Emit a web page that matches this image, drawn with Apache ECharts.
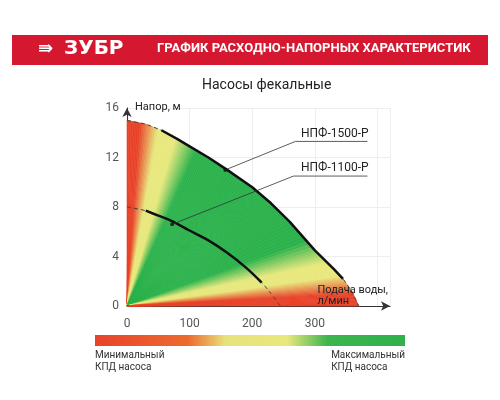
<!DOCTYPE html><html><head><meta charset="utf-8"><script src="https://cdn.jsdelivr.net/npm/echarts@6/dist/echarts.min.js"></script></head><body style="margin:0"><div id="c" style="width:500px;height:400px"></div><script>
const xTicks=[0,100,200,300,400];
const yTicks=[0,4,8,12,16];
const p1500X=[0,30,55,80,100,130,160,200,230,260,300,330,345,360,370];
const p1500Y=[15,14.7,14.2,13.5,12.9,12.0,11.0,9.6,8.3,6.8,4.5,3.0,2.2,1.1,0];
const p1100X=[0,30,50,70,100,130,160,190,215,230,245];
const p1100Y=[8,7.7,7.3,6.9,6.1,5.3,4.3,3.1,1.9,1.0,0];
const solid1500=[2,12];
const solid1100=[1,8];
const names=['НПФ-1500-Р','НПФ-1100-Р'];
const leader1500=[[157,11.0],[269,13.3],[384,13.3]];
const leader1100=[[72,6.6],[266,10.5],[384,10.5]];
const XS=0.625,YS=12.4;
const FN='Roboto,"Liberation Sans",sans-serif';
function mix(a,b,t){return a.map((v,i)=>Math.round(v+(b[i]-v)*t));}
const R=[232,66,40],Yl=[232,232,125],G=[44,178,76];
const stops=[[0,R],[3,R],[8,Yl],[12,Yl],[20,G],[66,G],[74,Yl],[80,Yl],[86,R],[90,R]];
function colAt(deg){for(let i=1;i<stops.length;i++){if(deg<=stops[i][0]){const t=(deg-stops[i-1][0])/(stops[i][0]-stops[i-1][0]);const c=mix(stops[i-1][1],stops[i][1],t);return 'rgb('+c.join(',')+')';}}return 'rgb('+R.join(',')+')';}
const wedges=[];for(let i=0;i<p1500X.length-1;i++)wedges.push([i]);
function seg(xs,ys,a,b){const r=[];for(let i=a;i<=b;i++)r.push([xs[i],ys[i]]);return r;}
const ch=echarts.init(document.getElementById('c'));
const ls={color:'#111',width:2.5};
ch.setOption({animation:false,
grid:{left:127,right:110,top:108,bottom:94},
xAxis:{type:'value',min:0,max:420,interval:100,axisLine:{lineStyle:{color:'#333'},symbol:['none','arrow'],symbolSize:[7,9]},axisTick:{show:false},splitLine:{lineStyle:{color:'#eee'}},axisLabel:{color:'#555',fontSize:12,fontFamily:FN,margin:12,formatter:v=>v>350?'':v}},
yAxis:{type:'value',min:0,max:16,interval:4,axisLine:{show:true,lineStyle:{color:'#333'},symbol:['none','arrow'],symbolSize:[7,9]},axisTick:{show:false},splitLine:{lineStyle:{color:'#eee'}},axisLabel:{color:'#555',fontSize:12,fontFamily:FN,margin:8}},
series:[
{type:'custom',data:wedges,silent:true,z:1,renderItem:(p,api)=>{const i=api.value(0);const ch2=[];const N=10;const o=api.coord([0,0]);
for(let k=0;k<N;k++){const t0=k/N,t1=(k+1)/N;const xa=p1500X[i]+(p1500X[i+1]-p1500X[i])*t0,ya=p1500Y[i]+(p1500Y[i+1]-p1500Y[i])*t0,xb=p1500X[i]+(p1500X[i+1]-p1500X[i])*t1,yb=p1500Y[i]+(p1500Y[i+1]-p1500Y[i])*t1;
const deg=Math.atan2((ya+yb)/2*YS,(xa+xb)/2*XS)*180/Math.PI;const a=api.coord([xa,ya]),b=api.coord([xb,yb]);
ch2.push({type:'polygon',shape:{points:[o,a,b]},style:{fill:colAt(deg),stroke:colAt(deg),lineWidth:0.6}});}
return {type:'group',children:ch2};}},
{type:'line',data:p1500X.map((x,i)=>[x,p1500Y[i]]),symbol:'none',lineStyle:{color:'#444',width:1,type:[4,3]},z:3},
{type:'line',data:p1100X.map((x,i)=>[x,p1100Y[i]]),smooth:0.3,symbol:'none',lineStyle:{color:'#444',width:1,type:[4,3]},z:3},
{type:'line',data:seg(p1500X,p1500Y,...solid1500),symbol:'none',lineStyle:ls,z:4},
{type:'line',data:seg(p1100X,p1100Y,...solid1100),smooth:0.3,symbol:'none',lineStyle:ls,z:4},
{type:'line',data:leader1500,symbol:'none',lineStyle:{color:'#333',width:0.8},z:5},
{type:'line',data:leader1100,symbol:'none',lineStyle:{color:'#333',width:0.8},z:5},
{type:'scatter',data:[leader1500[0],leader1100[0]],symbolSize:4,itemStyle:{color:'#111'},z:6}
],
graphic:[
{type:'rect',z:100,shape:{x:12,y:35,width:476,height:30},style:{fill:'#d5172f'}},
{type:'text',z:101,left:38,top:40,style:{text:'⇛',fill:'#fff',font:'bold 18px DejaVu Sans'}},
{type:'text',z:101,left:64,top:39,style:{text:'ЗУБР',fill:'#fff',font:'900 20px DejaVu Sans'}},
{type:'text',z:101,left:157,top:42,style:{text:'ГРАФИК РАСХОДНО-НАПОРНЫХ ХАРАКТЕРИСТИК',fill:'#fff',font:'bold 13px '+FN}},
{type:'text',z:101,left:202,top:78,style:{text:'Насосы фекальные',fill:'#222',font:'14px '+FN}},
{type:'text',z:101,left:135,top:102,style:{text:'Напор, м',fill:'#222',font:'11px '+FN}},
{type:'text',z:101,right:112,top:285,style:{text:'Подача воды,\nл/мин',fill:'#222',font:'11px '+FN,align:'right',lineHeight:11}},
{type:'text',z:101,left:301,top:128,style:{text:names[0],fill:'#222',font:'12px '+FN}},
{type:'text',z:101,left:301,top:162,style:{text:names[1],fill:'#222',font:'12px '+FN}},
{type:'rect',z:100,shape:{x:95,y:335,width:310,height:11},style:{fill:{type:'linear',x:0,y:0,x2:1,y2:0,colorStops:[{offset:0,color:'#e8432a'},{offset:0.3,color:'#ec6a2e'},{offset:0.42,color:'#e8e27a'},{offset:0.62,color:'#e8e87d'},{offset:0.75,color:'#3cb54d'},{offset:1,color:'#2eb14c'}]}}},
{type:'text',z:101,left:95,top:349,style:{text:'Минимальный\nКПД насоса',fill:'#333',font:'10px '+FN,lineHeight:12}},
{type:'text',z:101,right:95,top:349,style:{text:'Максимальный\nКПД насоса',fill:'#333',font:'10px '+FN,align:'right',lineHeight:12}}
]});
</script></body></html>
